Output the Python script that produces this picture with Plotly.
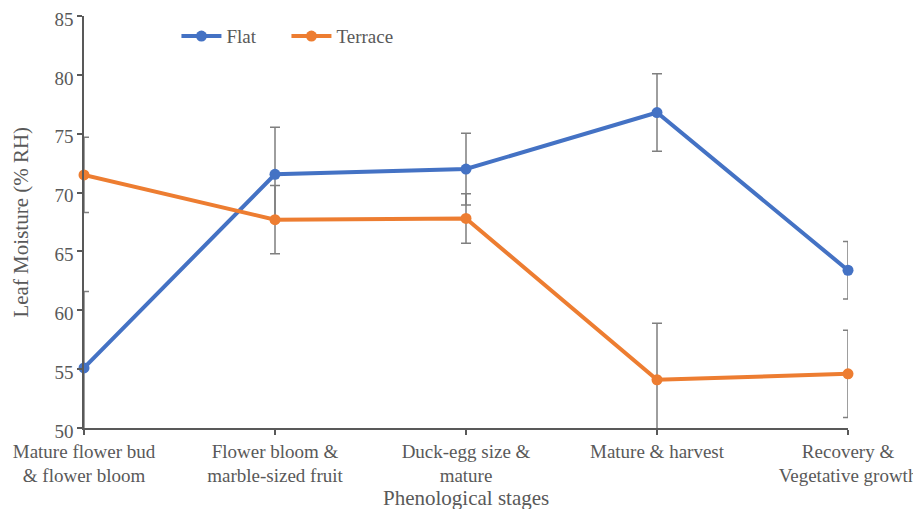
import plotly.graph_objects as go

stages = [
    "Mature flower bud<br>& flower bloom",
    "Flower bloom &<br>marble-sized fruit",
    "Duck-egg size &<br>mature",
    "Mature & harvest",
    "Recovery &<br>Vegetative growth",
]
flat = [55.1, 71.55, 72.0, 76.8, 63.4]
flat_err = [6.5, 4.0, 3.05, 3.3, 2.45]
terrace = [71.5, 67.7, 67.8, 54.1, 54.6]
terrace_err = [3.2, 2.9, 2.1, 4.8, 3.7]
y_ticks = [50, 55, 60, 65, 70, 75, 80, 85]

FONT = "Liberation Serif, Times New Roman, serif"
GRAY = "#595959"
ERR = "#7f7f7f"

fig = go.Figure()
for name, vals, errs, color in [
    ("Flat", flat, flat_err, "#4472C4"),
    ("Terrace", terrace, terrace_err, "#ED7D31"),
]:
    fig.add_trace(go.Scatter(
        x=list(range(len(stages))), y=vals, name=name, mode="lines+markers",
        line=dict(color=color, width=4),
        marker=dict(color=color, size=11),
        error_y=dict(type="data", array=errs, visible=True,
                     color=ERR, thickness=1.5, width=5),
        cliponaxis=False,
    ))

# page has an 8px body margin, so figure is 913x501 placed at (8, 8)
fig.update_layout(
    width=913, height=501,
    margin=dict(l=76, r=73, t=8, b=81, autoexpand=False),
    paper_bgcolor="white", plot_bgcolor="white",
    font=dict(family=FONT, size=19, color=GRAY),
    showlegend=True,
    legend=dict(orientation="h", x=0.121, y=0.951, xanchor="left", yanchor="middle",
                font=dict(family=FONT, size=19, color=GRAY),
                bgcolor="rgba(0,0,0,0)", itemwidth=40, entrywidth=55),
    xaxis=dict(
        range=[0, 4], tickmode="array", tickvals=list(range(len(stages))), ticktext=stages,
        showgrid=False, zeroline=False, showline=True, linecolor=GRAY, linewidth=1.5,
        ticks="outside", ticklen=5, tickcolor=GRAY, tickwidth=1.5, automargin=False,
        ticklabeloverflow="allow",
        tickfont=dict(family=FONT, size=19, color=GRAY),
    ),
    yaxis=dict(
        range=[50, 85], tickmode="array", tickvals=y_ticks,
        showgrid=False, zeroline=False, showline=True, linecolor=GRAY, linewidth=1.5,
        ticks="outside", ticklen=5, tickcolor=GRAY, tickwidth=1.5, automargin=False,
        ticklabeloverflow="allow", ticklabelshift=3,
        tickfont=dict(family=FONT, size=19, color=GRAY),
    ),
    annotations=[
        dict(text="Phenological stages", xref="paper", yref="paper", x=0.5, y=-0.17,
             xanchor="center", yanchor="middle", showarrow=False,
             font=dict(family=FONT, size=21, color=GRAY)),
        dict(text="Leaf Moisture (% RH)", xref="paper", yref="paper", x=-0.083, y=0.5,
             xanchor="center", yanchor="middle", textangle=-90, showarrow=False,
             font=dict(family=FONT, size=21, color=GRAY)),
    ],
)

fig.write_html("out.html")
